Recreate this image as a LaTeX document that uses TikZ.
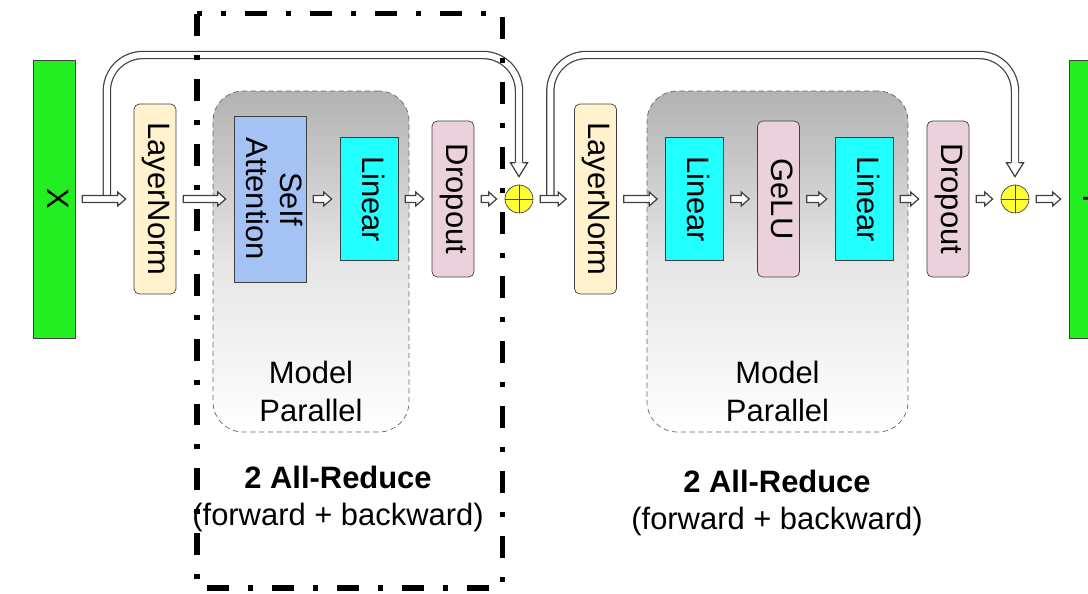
\documentclass[tikz,border=0pt]{standalone}
\usepackage{fontspec}
\setmainfont{Liberation Sans}
\usetikzlibrary{calc,positioning}
\definecolor{barg}{HTML}{22EE22}
\definecolor{lnx}{HTML}{FFF2CC}
\definecolor{sax}{HTML}{A4C2F4}
\definecolor{linx}{HTML}{22FFFF}
\definecolor{dpx}{HTML}{EAD1DC}
\definecolor{plx}{HTML}{FFFF33}
\definecolor{edge}{HTML}{404040}
\newcommand{\vtext}[1]{\rotatebox{-90}{\renewcommand{\arraystretch}{0.9}\begin{tabular}{@{}c@{}}#1\end{tabular}}}
\newcommand{\blk}[2]{\filldraw[blk] ($(#1.east)+(7,-3.5)$) -- ($(#2.west)+(-16,-3.5)$) -- ++(0,-3.5)
  -- ($(#2.west)+(-8,0)$) -- ($(#2.west)+(-16,7)$) -- ++(0,-3.5) -- ($(#1.east)+(7,3.5)$) -- cycle;}
\tikzset{
  bar/.style={draw=edge,fill=barg,minimum width=0.84cm,minimum height=5.56cm,inner sep=0pt},
  ln/.style={draw=edge,fill=lnx,rounded corners=3pt,minimum width=0.84cm,minimum height=3.8cm,inner sep=0pt},
  sa/.style={draw=edge,fill=sax,minimum width=1.44cm,minimum height=3.32cm,inner sep=0pt},
  lin/.style={draw=edge,fill=linx,minimum width=1.16cm,minimum height=2.46cm,inner sep=0pt},
  dp/.style={draw=edge,fill=dpx,rounded corners=3pt,minimum width=0.84cm,minimum height=3.12cm,inner sep=0pt},
  pl/.style={circle,draw=edge,fill=plx,minimum size=0.56cm,inner sep=0pt,
    path picture={\draw[edge] (path picture bounding box.north) -- (path picture bounding box.south)
      (path picture bounding box.west) -- (path picture bounding box.east);}},
  mp/.style={draw=black!60,dash pattern=on 3pt off 2pt,rounded corners=0.6cm,minimum height=6.82cm,
    top color=black!30,bottom color=white,middle color=black!10},
  blk/.style={draw=edge,fill=white,line width=0.7pt},
  res/.style={draw=edge,line width=0.7pt,double=white,double distance=3.4pt,rounded corners=0.72cm},
  hd/.style={draw=edge,fill=white,line width=0.7pt},
  hl/.style={line width=2.85pt,dash pattern=on 12.5pt off 10.8pt on 2.85pt off 10.8pt}
}
\begin{document}
\begin{tikzpicture}[x=0.02cm,y=-0.02cm,font=\fontsize{17.6}{21.6}\selectfont]
\useasboundingbox (0,0) rectangle (1088,594);
\node[mp,minimum width=3.92cm] (mp1) at (311,261.5) {};
\node[mp,minimum width=5.22cm] (mp2) at (777.5,261.5) {};
\node[align=center] (mpl1) at ($(mp1.south)+(0,-41)$) {Model\\Parallel};
\node[align=center] (mpl2) at ($(mp2.south)+(0,-41)$) {Model\\Parallel};
\node[bar] (x) at (54,199) {\vtext{X}};
\node[ln] (ln1) at (155,199) {\vtext{LayerNorm}};
\node[sa] (sa) at (270,199) {\vtext{Self\\Attention}};
\node[lin] (lin1) at (369,199) {\vtext{Linear}};
\node[dp] (dr1) at (453,199) {\vtext{Dropout}};
\node[pl] (p1) at (519,199) {};
\node[ln] (ln2) at (595.5,199) {\vtext{LayerNorm}};
\node[lin] (lin2) at (694.5,199) {\vtext{Linear}};
\node[dp] (gelu) at (778.5,199) {\vtext{GeLU}};
\node[lin] (lin3) at (864,199) {\vtext{Linear}};
\node[dp] (dr2) at (948,199) {\vtext{Dropout}};
\node[pl] (p2) at (1015,199) {};
\node[bar] (y) at (1090,199) {\vtext{Y}};
\coordinate (t1) at ($(p1)+(0,-144)$);
\coordinate (t2) at ($(p2)+(0,-144)$);
\draw[res] ($(x.east)+(31.5,-4)$) |- (t1) -- ($(p1.north)+(0,-22)$);
\draw[res] ($(p1.east)+(17,-4)$) |- (t2) -- ($(p2.north)+(0,-22)$);
\filldraw[hd] ($(p1.north)+(-3.6,-22)$) -- ++(-5,0) -- ($(p1.north)+(0,-8)$) -- ($(p1.north)+(8.6,-22)$) -- ++(-5,0);
\filldraw[hd] ($(p2.north)+(-3.6,-22)$) -- ++(-5,0) -- ($(p2.north)+(0,-8)$) -- ($(p2.north)+(8.6,-22)$) -- ++(-5,0);
\blk{x}{ln1} \blk{ln1}{sa} \blk{sa}{lin1} \blk{lin1}{dr1} \blk{dr1}{p1}
\blk{p1}{ln2} \blk{ln2}{lin2} \blk{lin2}{gelu} \blk{gelu}{lin3} \blk{lin3}{dr2} \blk{dr2}{p2} \blk{p2}{y}
\node[align=center] (ar1) at (338,499) {\textbf{2 All-Reduce}\\(forward + backward)};
\node[align=center] (ar2) at (777,503) {\textbf{2 All-Reduce}\\(forward + backward)};
\draw[hl] (197,14) rectangle (502,588);
\end{tikzpicture}
\end{document}
